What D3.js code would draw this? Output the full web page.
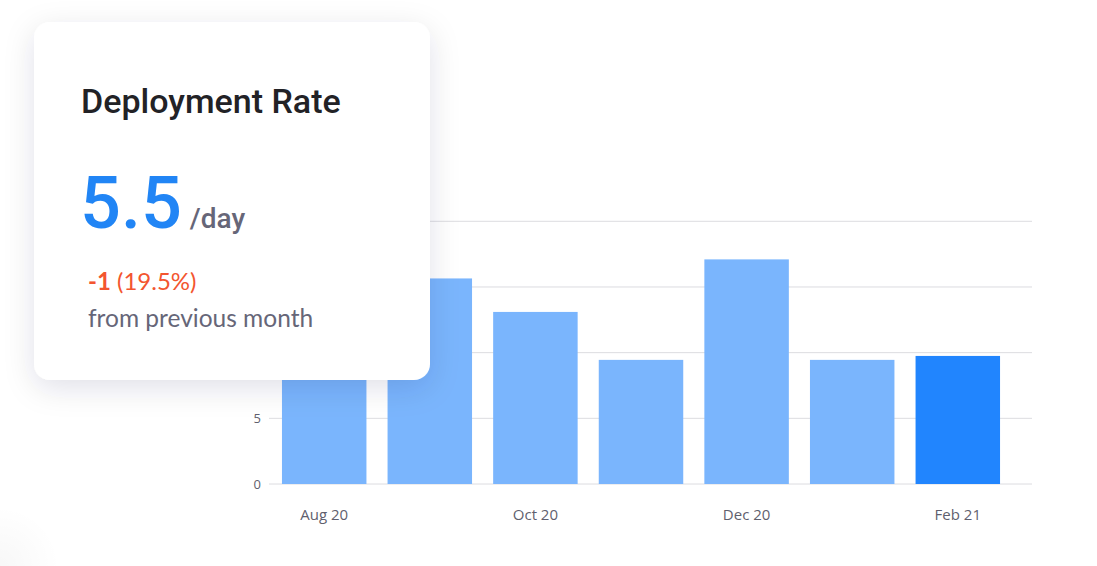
<!DOCTYPE html>
<html>
<head>
<meta charset="utf-8">
<script src="https://cdn.jsdelivr.net/npm/d3@7"></script>
<style>
  body { margin: 0; background: #fff; }
  svg { display: block; }
</style>
</head>
<body>
<script>
// data
let months = ["Aug 20", "Sep 20", "Oct 20", "Nov 20", "Dec 20", "Jan 21", "Feb 21"]
let rates = [12, 15.65, 13.1, 9.45, 17.1, 9.45, 9.75]
let shownLabels = ["Aug 20", "Oct 20", "Dec 20", "Feb 21"]
let yTicks = [0, 5, 10, 15, 20]

let w = 1097
let h = 566

let svg = d3.select("body")
            .append("svg")
                .attr("width", w)
                .attr("height", h)

let defs = svg.append("defs")
let shadow = defs.append("filter")
                .attr("id", "cardShadow")
                .attr("x", "-20%").attr("y", "-20%")
                .attr("width", "140%").attr("height", "150%")
shadow.append("feDropShadow")
        .attr("dx", 0)
        .attr("dy", 8)
        .attr("stdDeviation", 15)
        .attr("flood-color", "#1a1a40")
        .attr("flood-opacity", 0.12)

// faint blob bottom-left
let blob = defs.append("radialGradient").attr("id", "blob")
blob.append("stop").attr("offset", "0%").attr("stop-color", "#000").attr("stop-opacity", 0.03)
blob.append("stop").attr("offset", "100%").attr("stop-color", "#000").attr("stop-opacity", 0)
svg.append("circle")
    .attr("cx", 0).attr("cy", 566).attr("r", 60)
    .attr("fill", "url(#blob)")

let x = d3.scaleBand()
            .domain(months)
            .range([271.4, 1010.6])
            .paddingInner(0.2)
            .paddingOuter(0.1)

let y = d3.scaleLinear()
            .domain([0, 20])
            .range([484, 221.3])

let chart = svg.append("g")

// gridlines
chart.selectAll(".grid")
    .data(yTicks)
    .enter()
    .append("line")
        .attr("class", "grid")
        .attr("x1", 269)
        .attr("x2", 1032)
        .attr("y1", d => y(d))
        .attr("y2", d => y(d))
        .attr("stroke", "#dcdce0")
        .attr("stroke-width", 1)

let yAxis = chart.append("g")
                .attr("transform", "translate(269,0)")
                .call(d3.axisLeft(y).tickValues(yTicks).tickSize(0).tickPadding(8))
yAxis.select(".domain").remove()
yAxis.selectAll("text")
        .attr("font-family", "'Open Sans', sans-serif")
        .attr("font-size", 13)
        .attr("fill", "#5f5f6e")

chart.selectAll(".bar")
    .data(rates)
    .enter()
    .append("rect")
        .attr("class", "bar")
        .attr("x", (d, i) => x(months[i]))
        .attr("y", d => y(d))
        .attr("width", x.bandwidth())
        .attr("height", d => y(0) - y(d))
        .attr("fill", (d, i) => i == months.length - 1 ? "#2185fe" : "#7ab5fd")

let xAxis = chart.append("g")
                .attr("transform", "translate(0,484)")
                .call(d3.axisBottom(x).tickValues(shownLabels).tickSize(0).tickPadding(25))
xAxis.select(".domain").remove()
xAxis.selectAll("text")
        .attr("font-family", "'Open Sans', sans-serif")
        .attr("font-size", 15)
        .attr("fill", "#5f5f6e")

// card
let card = svg.append("g")
card.append("rect")
    .attr("x", 34)
    .attr("y", 22)
    .attr("width", 396)
    .attr("height", 358)
    .attr("rx", 16)
    .attr("fill", "#fff")
    .attr("filter", "url(#cardShadow)")

card.append("text")
    .attr("x", 81)
    .attr("y", 113)
    .attr("font-family", "Roboto, sans-serif")
    .attr("font-weight", 500)
    .attr("font-size", 34)
    .attr("fill", "#222226")
    .text("Deployment Rate")

let big = card.append("text")
            .attr("x", 80)
            .attr("y", 228)
            .attr("font-family", "Roboto, sans-serif")
big.append("tspan")
    .attr("font-size", 72)
    .attr("font-weight", 500)
    .attr("fill", "#2185f5")
    .text("5.5")
big.append("tspan")
    .attr("dx", 8)
    .attr("font-size", 28)
    .attr("font-weight", 500)
    .attr("fill", "#666678")
    .text("/day")

let delta = card.append("text")
            .attr("x", 88)
            .attr("y", 290)
            .attr("font-family", "Lato, sans-serif")
            .attr("font-size", 24)
            .attr("fill", "#f3552f")
delta.append("tspan")
    .attr("font-weight", 700)
    .text("-1")
delta.append("tspan")
    .text(" (19.5%)")

card.append("text")
    .attr("x", 88)
    .attr("y", 327)
    .attr("font-family", "Lato, sans-serif")
    .attr("font-size", 24.5)
    .attr("fill", "#666678")
    .text("from previous month")
</script>
</body>
</html>
